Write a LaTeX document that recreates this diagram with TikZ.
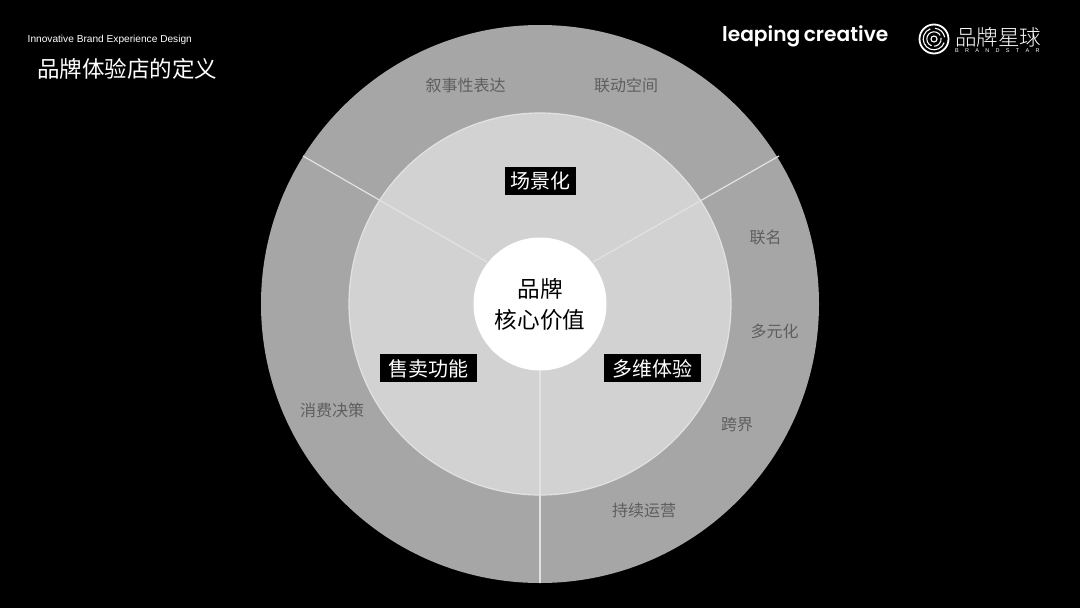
\documentclass[tikz,border=0pt]{standalone}
\usepackage{fontspec}
\setmainfont{Liberation Sans}
\newfontfamily\cjk{Noto Sans CJK SC}
\newfontfamily\cjklight{Noto Sans CJK SC}[UprightFont={* Light}]
\newfontfamily\logofont{Poppins}[UprightFont={* SemiBold}]
\definecolor{ringtop}{HTML}{A6A6A6}
\definecolor{mid}{HTML}{D2D2D2}
\definecolor{rule}{HTML}{E2E2E2}
\definecolor{lbl}{HTML}{5E5E5E}
\tikzset{
  ring/.style={circle,inner sep=0pt,outer sep=0pt,minimum size=#1},
  tag/.style={fill=black,text=white,font=\cjk\fontsize{20}{20}\selectfont,inner sep=0pt,minimum height=28pt,text height=18pt,text depth=2pt,align=center},
  note/.style={text=lbl,font=\cjk\fontsize{16}{16}\selectfont,inner sep=0pt},
  divider/.style={draw=rule,line width=1.2pt},
  logoline/.style={draw=white,line width=1.1pt},
}
\begin{document}
\begin{tikzpicture}[x=1pt,y=-1pt]
\fill[black] (0,0) rectangle (1080,608);
\useasboundingbox (0,0) rectangle (1080,608);
\node[ring=558pt,fill=ringtop] (outer) at (540,304) {};
\node[ring=382pt,fill=mid,draw=rule,line width=1.2pt] (middle) at (540,304) {};
\coordinate (tl) at (303,156);
\coordinate (tr) at (779,156);
\coordinate (bt) at (540,583);
\coordinate (il) at (487,262);
\coordinate (ir) at (593,262);
\coordinate (ib) at (540,370);
\draw[divider] (tl) -- (il);
\draw[divider] (tr) -- (ir);
\draw[divider] (bt) -- (ib);
\node[ring=133pt,fill=white,align=center,font=\cjk\fontsize{22.6}{31}\selectfont,text=black] (core) at (540,304) {品牌\\核心价值};
\node[tag,minimum width=71pt] (a) at (540.5,180.5) {场景化};
\node[tag,minimum width=97pt] (b) at (428,368) {售卖功能};
\node[tag,minimum width=97pt] (c) at (652,368) {多维体验};
\node[note] (n1) at (465.5,85) {叙事性表达};
\node[note] (n2) at (626,85) {联动空间};
\node[note] (n3) at (765.5,237) {联名};
\node[note] (n4) at (774.5,331) {多元化};
\node[note] (n5) at (737,425) {跨界};
\node[note] (n6) at (644,510) {持续运营};
\node[note] (n7) at (332,410) {消费决策};
\node[anchor=west,inner sep=0pt,text=white,font=\fontsize{10.15}{11}\selectfont] (t1) at (27.5,39.5) {Innovative Brand Experience Design};
\node[anchor=west,inner sep=0pt,text=white,font=\cjk\fontsize{22.5}{23}\selectfont] (t2) at (37,68.5) {品牌体验店的定义};
\node[anchor=west,inner sep=0pt,text=white,font=\logofont\fontsize{20.2}{24}\selectfont] (l1) at (722,36.5) {leaping\hspace{-1.3pt} creative};
\node[anchor=west,inner sep=0pt,text=white,font=\cjklight\fontsize{21.5}{24}\selectfont] (l2) at (955,37) {品牌星球};
\node[anchor=west,inner sep=0pt,text=white,font=\fontsize{5.5}{5}\selectfont] (l3) at (955,51) {B\hspace{6.3pt}R\hspace{6.3pt}A\hspace{6.3pt}N\hspace{6.3pt}D\hspace{6.3pt}S\hspace{6.3pt}T\hspace{6.3pt}A\hspace{6.3pt}R};
\draw[white,line width=1.8pt] (934,39) circle (14.5);
\draw[logoline] (934,39) ++(20:10.8) arc (20:250:10.8);
\draw[logoline] (934,39) ++(275:10.8) arc (275:350:10.8);
\draw[logoline] (934,39) ++(110:7.2) arc (110:330:7.2);
\draw[logoline] (934,39) ++(350:7.2) arc (350:450:7.2);
\draw[logoline] (934,39) circle (3);
\end{tikzpicture}
\end{document}
